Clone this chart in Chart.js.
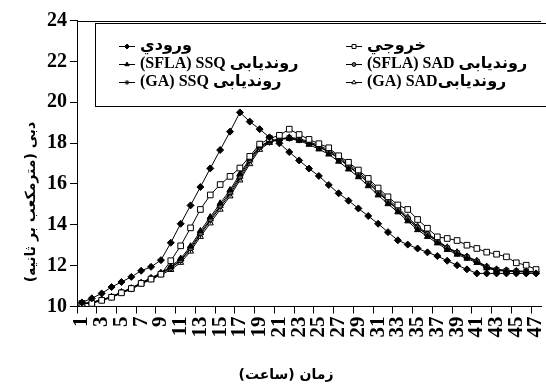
<!DOCTYPE html>
<html>
<head>
<meta charset="utf-8">
<script src="https://cdn.jsdelivr.net/npm/chart.js@4/dist/chart.umd.min.js"></script>
<style>
  html, body { margin: 0; padding: 0; background: #fff; overflow: hidden; }
  #wrap { position: relative; width: 546px; height: 386px; }
</style>
</head>
<body>
<div id="wrap"><canvas id="flowChart"></canvas></div>
<script>
// hours on the x axis
var hours = ['1','2','3','4','5','6','7','8','9','10','11','12','13','14','15','16','17','18','19','20',
  '21','22','23','24','25','26','27','28','29','30','31','32','33','34','35','36','37','38','39','40',
  '41','42','43','44','45','46','47'];
var yTicks = [10, 12, 14, 16, 18, 20, 22, 24];

// \u200F (RLM) keeps each latin word in right-to-left order, as in the original figure
var seriesNames = ['ورودي', 'خروجي', 'روندیابی SSQ\u200F (SFLA)', 'روندیابی SAD\u200F (SFLA)', 'روندیابی SSQ\u200F (GA)', 'روندیابیSAD\u200F (GA)'];
var yTitle = 'دبی (مترمکعب بر ثانیه)';
var xTitle = 'زمان (ساعت)';

var inflow = [10.2,10.4,10.64,10.95,11.2,11.45,11.75,11.94,12.27,13.12,14.05,14.95,15.85,16.76,17.66,18.56,19.5,19.05,18.68,18.28,
  17.99,17.56,17.15,16.75,16.39,15.95,15.54,15.18,14.8,14.43,14.05,13.64,13.24,13.03,12.84,12.65,12.47,12.24,12.02,11.82,
  11.62,11.62,11.62,11.62,11.62,11.62,11.62];
var outflow = [10.15,10.15,10.3,10.45,10.67,10.88,11.13,11.34,11.58,12.24,12.97,13.85,14.75,15.46,15.97,16.37,16.78,17.35,17.95,18.22,
  18.38,18.68,18.42,18.18,17.97,17.77,17.38,17.06,16.68,16.27,15.8,15.37,14.97,14.75,14.26,13.83,13.41,13.33,13.23,13.0,
  12.84,12.66,12.56,12.43,12.14,12.02,11.81];
var ssqSfla = [10.13,10.2,10.33,10.48,10.71,10.9,11.17,11.4,11.65,11.95,12.35,12.95,13.7,14.38,15.05,15.7,16.48,17.25,17.85,18.1,
  18.2,18.22,18.12,17.93,17.7,17.45,17.1,16.72,16.34,15.9,15.45,15.02,14.62,14.18,13.75,13.42,13.1,12.78,12.55,12.35,
  12.14,11.88,11.76,11.73,11.7,11.7,11.7];
var sadSfla = [10.13,10.2,10.33,10.47,10.7,10.88,11.15,11.38,11.62,11.9,12.28,12.86,13.6,14.28,14.94,15.6,16.38,17.18,17.82,18.08,
  18.2,18.25,18.17,18.02,17.82,17.6,17.27,16.9,16.52,16.08,15.62,15.18,14.77,14.3,13.86,13.53,13.2,12.87,12.63,12.42,
  12.21,11.93,11.8,11.76,11.73,11.71,11.7];
var ssqGa = [10.13,10.2,10.32,10.46,10.69,10.87,11.14,11.36,11.6,11.88,12.24,12.8,13.52,14.2,14.86,15.5,16.28,17.08,17.76,18.05,
  18.18,18.24,18.16,18.0,17.8,17.57,17.24,16.86,16.48,16.05,15.58,15.14,14.74,14.27,13.84,13.52,13.18,12.85,12.61,12.41,
  12.2,11.92,11.79,11.75,11.72,11.7,11.7];
var sadGa = [10.12,10.18,10.3,10.44,10.66,10.84,11.1,11.32,11.55,11.8,12.15,12.7,13.42,14.08,14.75,15.4,16.18,16.98,17.68,18.02,
  18.2,18.28,18.22,18.07,17.88,17.66,17.34,16.97,16.6,16.16,15.7,15.26,14.84,14.37,13.92,13.58,13.24,12.9,12.66,12.45,
  12.24,11.96,11.82,11.77,11.74,11.72,11.71];

var serif = '"Liberation Serif", "DejaVu Sans", serif';
var persian = '"DejaVu Sans", sans-serif';

function mkSet(name, values, style, bg, radius) {
  return {
    label: name,
    data: values,
    borderColor: '#000',
    borderWidth: 1,
    pointStyle: style,
    pointRadius: radius,
    pointBackgroundColor: bg,
    pointBorderColor: '#000',
    pointBorderWidth: 1,
    tension: 0,
    fill: false
  };
}

var datasets = [
  mkSet(seriesNames[0], inflow, 'rectRot', '#000', 3.5),
  mkSet(seriesNames[1], outflow, 'rect', '#fff', 4),
  mkSet(seriesNames[2], ssqSfla, 'triangle', '#000', 3.5),
  mkSet(seriesNames[3], sadSfla, 'circle', '#666', 2.8),
  mkSet(seriesNames[4], ssqGa, 'star', '#000', 3.5),
  mkSet(seriesNames[5], sadGa, 'triangle', '#fff', 3.5)
];

// legend slots: [x of marker centre, y of row]
var legendSlots = [[127, 46], [354, 46], [127, 64], [354, 64], [127, 82], [354, 82]];

var decor = {
  id: 'decor',
  afterDraw: function (chart) {
    var ctx = chart.ctx, a = chart.chartArea;
    ctx.save();
    ctx.strokeStyle = '#000';
    ctx.lineWidth = 1;
    // top edge of the plot frame
    ctx.beginPath();
    ctx.moveTo(a.left, Math.round(a.top) + 0.5);
    ctx.lineTo(a.right, Math.round(a.top) + 0.5);
    ctx.stroke();

    // legend box
    ctx.fillStyle = '#fff';
    ctx.fillRect(95.5, 23.5, 470, 83);
    ctx.strokeRect(95.5, 23.5, 470, 83);

    ctx.font = 'bold 16px ' + serif;
    ctx.textBaseline = 'middle';
    ctx.textAlign = 'left';
    ctx.direction = 'rtl';
    chart.data.datasets.forEach(function (ds, i) {
      var mx = legendSlots[i][0], my = legendSlots[i][1];
      ctx.strokeStyle = '#000';
      ctx.lineWidth = 1;
      ctx.beginPath();
      ctx.moveTo(mx - 8, my + 0.5);
      ctx.lineTo(mx + 8, my + 0.5);
      ctx.stroke();
      ctx.fillStyle = ds.pointBackgroundColor;
      Chart.helpers.drawPoint(ctx, {pointStyle: ds.pointStyle, radius: ds.pointRadius * 0.7, rotation: 0, borderWidth: 1}, mx, my + 0.5);
      ctx.fillStyle = '#000';
      ctx.fillText(ds.label, mx + 13, my);
    });

    // axis titles
    ctx.font = 'bold 14px ' + persian;
    ctx.textAlign = 'center';
    ctx.fillStyle = '#000';
    ctx.fillText(xTitle, 286, 375);
    ctx.translate(31, 202);
    ctx.rotate(-Math.PI / 2);
    ctx.fillText(yTitle, 0, 0);
    ctx.restore();
  }
};

new Chart(document.getElementById('flowChart'), {
  type: 'line',
  data: { labels: hours, datasets: datasets },
  options: {
    responsive: true,
    maintainAspectRatio: false,
    animation: false,
    layout: { padding: { top: 20.5, right: 0, left: 0, bottom: 0 } },
    plugins: { legend: { display: false }, tooltip: { enabled: false } },
    scales: {
      x: {
        type: 'category',
        offset: true,
        afterFit: function (s) { s.height = 79.5; s.paddingLeft = 0; s.paddingRight = 0; },
        grid: {
          offset: true,
          drawOnChartArea: false,
          tickLength: 7,
          color: function (c) { return c.index % 2 === 0 ? '#000' : 'rgba(0,0,0,0)'; }
        },
        border: { color: '#000', width: 1 },
        ticks: {
          autoSkip: false,
          minRotation: 90,
          maxRotation: 90,
          padding: 3,
          color: '#000',
          font: { family: serif, size: 21, weight: 'bold' },
          callback: function (v, i) { return i % 2 === 0 ? hours[i] : ''; }
        }
      },
      y: {
        min: yTicks[0],
        max: yTicks[yTicks.length - 1],
        afterFit: function (s) { s.width = 77; s.paddingTop = 0; s.paddingBottom = 0; },
        afterBuildTicks: function (s) { s.ticks = yTicks.map(function (v) { return {value: v}; }); },
        grid: { drawOnChartArea: false, tickLength: 7, color: '#000' },
        border: { color: '#000', width: 1 },
        ticks: {
          padding: 3,
          color: '#000',
          font: { family: serif, size: 20, weight: 'bold' }
        }
      }
    }
  },
  plugins: [decor]
});
</script>
</body>
</html>
